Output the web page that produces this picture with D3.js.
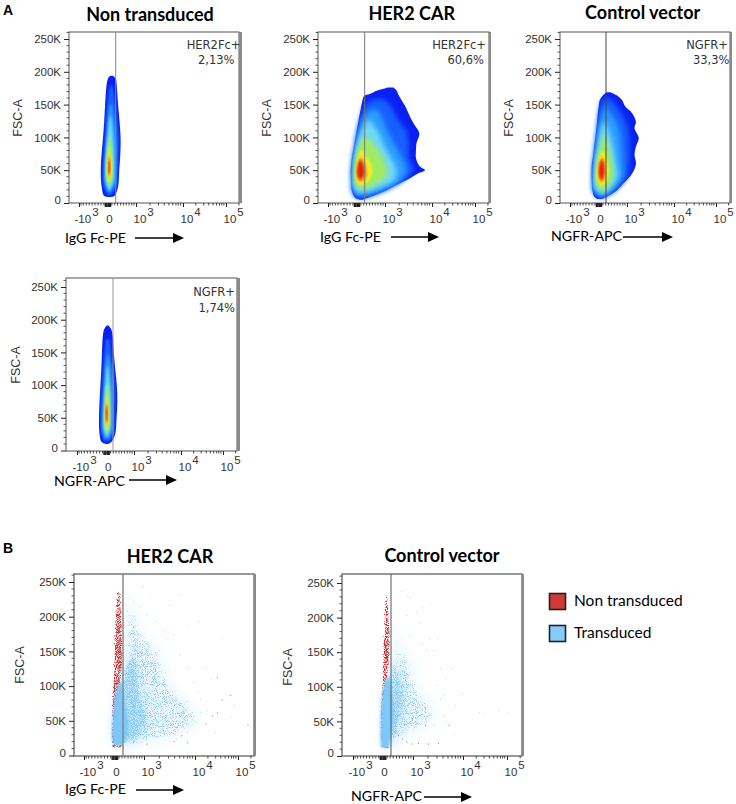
<!DOCTYPE html>
<html>
<head>
<meta charset="utf-8">
<script src="https://cdn.jsdelivr.net/npm/d3@7"></script>
<style>
	html, body { margin: 0; background: #fff; }
	svg { display: block; }
	text { font-family: "Liberation Sans", sans-serif; fill: #333; }
	.title, .xtitle, .legend, .letter { fill: #000; }
	.title, .xtitle, .legend { font-family: Lato, sans-serif; }
</style>
</head>
<body>
<svg id="chart" width="736" height="804"></svg>
<script>
// x values are in axis decades: -1 = -10^3, 0 = 0, 1 = 10^3, 2 = 10^4, 3 = 10^5. fsc in K
const xTickValues = [-1, 0, 1, 2, 3];
const xTickPowers = ['3', '', '3', '4', '5'];
const xMinorValues = [-.93, -.85, -.75, -.65, -.55, -.45, -.34, -.24, -.14, -.09, -.06, -.03, .03, .06, .09, .14, .24, .34, .45, .55, .65, .75, .85, .93,
	1.3, 1.48, 1.6, 1.7, 1.78, 1.85, 1.9, 1.95, 2.3, 2.48, 2.6, 2.7, 2.78, 2.85, 2.9, 2.95, 3.3];
const fscTicks = [0, 50, 100, 150, 200, 250];
const fscMinor = [10, 20, 30, 40, 60, 70, 80, 90, 110, 120, 130, 140, 160, 170, 180, 190, 210, 220, 230, 240, 260];

const densityColors = ['#0a20f2', '#1560ff', '#2c9cff', '#70d8f5', '#a0ec60', '#f0ee28', '#ff9a10', '#e02010'];

// contour outlines of the density plots: [fsc, left x, right x]
const nonTransducedPe = [
	[[9,0,.1],[11,-.14,.24],[25,-.22,.36],[50,-.25,.4],[75,-.22,.44],[100,-.17,.45],[125,-.13,.41],[150,-.1,.36],[175,-.06,.32],[187,-.02,.29],[192,.03,.23],[194,.09,.17]],
	[[12,0,.1],[25,-.15,.3],[50,-.18,.35],[100,-.1,.38],[140,-.05,.29],[170,.03,.2],[180,.09,.15]],
	[[16,.01,.08],[30,-.11,.25],[50,-.13,.29],[90,-.07,.29],[125,-.01,.22],[150,.06,.14]],
	[[20,.02,.07],[35,-.08,.2],[55,-.09,.22],[85,-.05,.2],[110,0,.16],[132,.06,.11]],
	[[26,.03,.06],[40,-.06,.16],[60,-.06,.17],[80,-.03,.14],[102,.05,.08]],
	[[32,.03,.05],[45,-.03,.12],[60,-.03,.12],[72,0,.09],[86,.04,.06]],
	[[38,.03,.05],[50,-.01,.09],[60,-.01,.09],[74,.03,.05]],
	[[43,.03,.04],[50,.01,.07],[58,.01,.07],[66,.03,.05]]
];
const her2CarPe = [
	[[5,.1,.2],[8,-.07,.4],[17,-.17,.94],[26,-.2,1.2],[35,-.21,1.46],[45,-.22,1.7],[50,-.22,1.85],[56,-.21,1.74],[68,-.18,1.66],[81,-.13,1.66],[91,-.09,1.67],[106,-.03,1.73],[120,.03,1.62],[132,.08,1.53],[145,.14,1.45],[157,.2,1.35],[163,.25,1.3],[166,.46,1.28],[171,.7,1.25],[176,1.07,1.18]],
	[[8,-.03,.3],[17,-.16,.9],[35,-.19,1.4],[50,-.19,1.6],[70,-.15,1.5],[90,-.07,1.5],[110,0,1.45],[130,.13,1.25],[150,.3,1.1],[158,.6,.95]],
	[[11,0,.3],[20,-.14,.95],[35,-.16,1.35],[50,-.16,1.45],[70,-.11,1.35],[90,-.03,1.2],[110,.06,1.05],[130,.2,.9],[142,.5,.75]],
	[[16,.02,.3],[24,-.11,.85],[35,-.13,1.2],[50,-.13,1.25],[70,-.08,1.12],[90,0,.95],[105,.1,.8],[118,.25,.6],[126,.4,.5]],
	[[22,.05,.3],[30,-.08,.75],[45,-.1,1.05],[60,-.08,1],[78,-.02,.8],[92,.1,.55],[100,.25,.4]],
	[[28,.05,.2],[36,-.03,.45],[46,-.05,.55],[60,-.02,.5],[72,.05,.3],[80,.13,.2]],
	[[32,.1,.16],[38,0,.33],[50,-.02,.36],[60,.02,.3],[70,.11,.17]],
	[[36,.1,.13],[42,.02,.24],[50,.01,.26],[58,.04,.22],[65,.1,.14]]
];
const controlVectorApc = [
	[[6,-.05,.1],[10,-.17,.3],[17,-.22,.58],[30,-.25,.88],[45,-.26,1.11],[60,-.25,1.19],[73,-.2,1.16],[86,-.17,1.19],[99,-.13,1.25],[114,-.09,1.16],[124,-.07,1.19],[137,-.04,1.11],[147,-.01,.94],[157,.03,.82],[165,.16,.6],[169,.27,.4]],
	[[8,0,.15],[18,-.2,.55],[40,-.23,1],[60,-.21,1.05],[90,-.13,1.05],[120,-.05,1],[140,0,.75],[155,.1,.5],[160,.22,.35]],
	[[11,.02,.2],[20,-.18,.5],[40,-.2,.85],[60,-.18,.85],[90,-.09,.8],[115,-.02,.7],[135,.08,.45],[145,.2,.3]],
	[[14,.03,.2],[24,-.16,.45],[40,-.17,.68],[60,-.14,.62],[85,-.05,.52],[105,.02,.4],[122,.13,.25]],
	[[20,.03,.2],[30,-.12,.42],[48,-.13,.5],[70,-.06,.42],[90,.05,.3],[102,.13,.2]],
	[[26,.05,.13],[36,-.07,.3],[50,-.07,.34],[65,-.02,.28],[78,.08,.2]],
	[[31,.07,.12],[40,-.03,.22],[52,-.03,.24],[62,.01,.2],[71,.1,.14]],
	[[35,.08,.11],[42,.01,.17],[50,0,.19],[58,.02,.18],[66,.09,.12]]
];
const nonTransducedApc = [
	[[10,-.02,.04],[13,-.17,.17],[25,-.24,.31],[50,-.26,.36],[75,-.24,.39],[100,-.21,.37],[125,-.18,.31],[150,-.16,.26],[175,-.13,.22],[185,-.09,.17],[189,-.04,.11],[191,0,.06]],
	[[14,-.08,.08],[25,-.18,.25],[50,-.2,.29],[100,-.15,.3],[140,-.09,.18],[170,-.02,.1]],
	[[18,-.05,.06],[30,-.14,.2],[50,-.16,.22],[90,-.1,.22],[125,-.05,.15],[146,.01,.07]],
	[[22,-.03,.04],[35,-.1,.14],[55,-.1,.15],[85,-.07,.14],[110,-.03,.09],[128,0,.05]],
	[[27,-.02,.03],[40,-.08,.1],[60,-.08,.1],[80,-.05,.09],[100,-.02,.05]],
	[[32,-.02,.02],[45,-.05,.07],[60,-.05,.07],[72,-.03,.05],[84,-.01,.02]],
	[[38,-.01,.02],[50,-.04,.05],[60,-.04,.05],[74,-.01,.01]],
	[[44,-.01,.01],[52,-.03,.03],[60,-.03,.03],[70,-.01,.01]]
];

// overlay plots: outlines of the dot clouds, then single dots away from the cloud
const carBlueSolid = [[14,-.02,.2],[20,-.08,.35],[40,-.09,.45],[60,-.06,.42],[80,-.02,.33],[95,.05,.28],[105,.15,.25]];
const carBlueDense = [[15,0,.5],[25,-.08,.9],[50,-.08,1.1],[70,-.05,1.05],[100,.05,.9],[125,.25,.85],[140,.4,.75],[150,.6,.7]];
const carBlueSparse = [[10,.1,.5],[20,-.05,1.5],[50,-.05,2.15],[75,.05,1.95],[100,.15,1.6],[130,.25,1.45],[160,.25,1.25],[180,.25,1],[215,.3,.8]];
const carRed = [[10,-.12,.35],[40,-.13,.1],[70,-.11,.1],[100,-.09,.2],[130,-.06,.27],[170,-.03,.27],[205,0,.25],[237,.05,.22]];
const carBlueDots = [[.97,244],[1.71,232],[2.08,194],[2.6,170],[2.22,126],[2.37,111],[2.89,73],[2.45,34],[2.82,56],[2.28,65],[2.12,82],[1.87,188],[1.5,217],[1.43,169],[1.57,174],[1.3,152],[1.7,145],[1.84,126],[1.97,106],[2.05,92],[1.84,78],[1.77,63],[2.12,63],[2,49],[1.84,34],[1.64,25],[1.11,232],[.62,222],[.5,227],[.85,215],[.4,208],[1.05,203],[1.23,193],[.68,188],[1.37,179]];
const carRedDots = [[2.51,113],[2.82,87],[2.62,81],[2.51,62],[2.4,58],[3.22,45],[1.58,21],[1.84,19],[1.05,17],[.62,20],[.85,58],[1.64,41],[1.73,29],[2.24,46]];

const ctrlBlueSolid = [[12,-.07,.2],[25,-.08,.25],[50,-.08,.35],[70,-.06,.35],[90,-.02,.3],[105,.05,.25],[115,.15,.22]];
const ctrlBlueDense = [[14,-.03,.3],[30,-.07,.5],[60,-.05,.7],[80,-.02,.8],[100,.1,.75],[120,.22,.6],[140,.25,.4]];
const ctrlBlueSparse = [[14,.1,.3],[30,.1,1],[55,.1,1.5],[80,.1,1.35],[100,.2,1.15],[130,.25,1.05],[155,.25,.8],[180,.25,.45],[210,.25,.35]];
const ctrlRed = [[10,-.08,.25],[40,-.1,.05],[70,-.09,.05],[100,-.05,.1],[130,-.03,.22],[170,0,.25],[205,.03,.22],[237,.07,.15]];
const ctrlBlueDots = [[.59,238],[.78,232],[.89,230],[1.17,215],[1.34,222],[1.32,170],[1.49,170],[1.78,127],[1.98,91],[1.62,88],[1.83,74],[1.61,59],[1.81,33],[2.36,63],[2.45,62],[2.81,66],[3,63],[1.07,208],[.78,204],[1.13,192],[1.17,163],[1.41,153],[1.55,127],[1.65,112],[1.47,103],[1.54,83],[1.41,45],[1.65,50],[1.27,153],[.89,175]];
const ctrlRedDots = [[1.71,45],[1.5,19],[1.3,18],[1.1,19],[.94,18],[.78,21],[.5,30],[1.07,47],[1.24,45],[.39,35],[.64,25]];

const legendLabels = ['Non transduced', 'Transduced'];
const legendColors = ['#d03a35', '#85ccfb'];

// where each plot sits on the page
const panels = [
	{ title: 'Non transduced', titleX: 150, titleY: 21, xTitle: 'IgG Fc-PE', xTitleX: 65, xTitleY: 243, arrow: [135, 184, 238], yTitleX: 18,
		frame: [69, 239, 32, 203], bar: 3, xPx: [79, 108, 136, 183, 226], yPx: [203, 39], gate: 115.7, gateColor: '#888', blur: 'soft',
		note: ['HER2Fc+', '2,13%'], noteX: [240.5, 234.5], noteY: [49, 64], levels: nonTransducedPe },
	{ title: 'HER2 CAR', titleX: 411.7, titleY: 20, xTitle: 'IgG Fc-PE', xTitleX: 320, xTitleY: 242, arrow: [391, 439, 237], yTitleX: 267,
		frame: [318, 489, 32, 203], bar: 2, xPx: [328, 357, 385, 432, 475], yPx: [203, 39], gate: 364.7, gateColor: '#777', blur: 'softWide',
		note: ['HER2Fc+', '60,6%'], noteX: [486, 484], noteY: [49, 64], levels: her2CarPe },
	{ title: 'Control vector', titleX: 642.7, titleY: 19, xTitle: 'NGFR-APC', xTitleX: 551, xTitleY: 241, arrow: [623, 673, 237], yTitleX: 509,
		frame: [560, 730, 32, 203], bar: 2, xPx: [570, 599, 627, 674, 716], yPx: [203, 39], gate: 606, gateColor: '#444', blur: 'softWide',
		note: ['NGFR+', '33,3%'], noteX: [728, 729.5], noteY: [49, 64], levels: controlVectorApc },
	{ xTitle: 'NGFR-APC', xTitleX: 54, xTitleY: 485.6, arrow: [129, 177, 480], yTitle: 365, yTitleX: 16,
		frame: [66, 237, 278, 451], bar: 3, xPx: [77, 106.7, 134, 181, 223], yPx: [450.5, 287], gate: 113, gateColor: '#999', blur: 'soft',
		note: ['NGFR+', '1,74%'], noteX: [235, 235], noteY: [296, 312], levels: nonTransducedApc },
	{ title: 'HER2 CAR', titleX: 170, titleY: 563, xTitle: 'IgG Fc-PE', xTitleX: 65, xTitleY: 794, arrow: [136, 184, 790], yTitle: 665, yTitleX: 20,
		frame: [74, 254, 574, 756], bar: 2, xPx: [84, 115, 144, 195, 238], yPx: [755.5, 582], gate: 123, gateColor: '#888', gateWidth: 1.5,
		solid: carBlueSolid, dense: carBlueDense, sparse: carBlueSparse, red: carRed, blueDots: carBlueDots, redDots: carRedDots },
	{ title: 'Control vector', titleX: 442, titleY: 562, xTitle: 'NGFR-APC', xTitleX: 351, xTitleY: 801, arrow: [424, 472, 797], yTitle: 667, yTitleX: 288,
		frame: [342, 522, 574, 756], bar: 2, xPx: [353, 383, 413, 463, 507], yPx: [756, 583], gate: 391, gateColor: '#555',
		solid: ctrlBlueSolid, dense: ctrlBlueDense, sparse: ctrlBlueSparse, red: ctrlRed, blueDots: ctrlBlueDots, redDots: ctrlRedDots }
];

const svg = d3.select('#chart');
const defs = svg.append('defs');

defs.append('filter').attr('id', 'soft')
	.append('feGaussianBlur').attr('stdDeviation', 1.1);
defs.append('filter').attr('id', 'softWide')
	.append('feGaussianBlur').attr('stdDeviation', 2.4);
defs.append('filter').attr('id', 'wash').attr('x', '-20%').attr('y', '-20%').attr('width', '140%').attr('height', '140%')
	.append('feGaussianBlur').attr('stdDeviation', 5);

// dot texture for the clouds: threshold sets the coverage, fade how far the edge thins out
function addStipple(id, threshold, fade, seed) {
	const f = defs.append('filter').attr('id', id)
		.attr('x', '-15%').attr('y', '-15%').attr('width', '130%').attr('height', '130%')
		.attr('color-interpolation-filters', 'sRGB');
	f.append('feTurbulence').attr('type', 'fractalNoise').attr('baseFrequency', 1.1)
		.attr('numOctaves', 1).attr('seed', seed).attr('result', 'noise');
	f.append('feColorMatrix').attr('in', 'noise').attr('type', 'matrix')
		.attr('values', '0 0 0 0 0  0 0 0 0 0  0 0 0 0 0  1 0 0 0 0').attr('result', 'mask');
	f.append('feGaussianBlur').attr('in', 'SourceGraphic').attr('stdDeviation', fade).attr('result', 'edge');
	f.append('feComposite').attr('in', 'edge').attr('in2', 'mask').attr('operator', 'in').attr('result', 'mixed');
	f.append('feColorMatrix').attr('in', 'mixed').attr('type', 'matrix')
		.attr('values', `1 0 0 0 0  0 1 0 0 0  0 0 1 0 0  0 0 0 6 ${-6 * threshold}`).attr('result', 'dots');
	f.append('feGaussianBlur').attr('in', 'dots').attr('stdDeviation', 0.35);
}
addStipple('stippleRed', 0.4, 1.2, 3);
addStipple('stippleMid', 0.42, 3, 7);
addStipple('stippleSparse', 0.5, 6, 11);

function drawXAxis(g, panel, x) {
	const axis = d3.axisBottom(x).tickValues(xTickValues).tickSize(4).tickFormat(d => d === 0 ? '0' : d === -1 ? '-10' : '10');
	const a = g.append('g').attr('transform', `translate(0,${panel.frame[3]})`).call(axis);
	a.select('.domain').remove();
	a.selectAll('line').attr('stroke', '#222');
	a.selectAll('.tick text').each(function(d, i) {
		const t = d3.select(this);
		t.attr('y', 20).attr('dy', 0).style('font-size', '11.5px').attr('fill', '#333');
		if (d !== 0) {
			t.attr('text-anchor', 'start').attr('x', d === -1 ? -5 : -3);
			t.append('tspan').attr('dy', -7).attr('dx', 1).text(xTickPowers[i]);
		} else {
			t.attr('x', 1);
		}
	});
	const minor = g.append('g').attr('transform', `translate(0,${panel.frame[3]})`);
	minor.selectAll('line').data(xMinorValues).enter().append('line')
		.attr('x1', d => x(d)).attr('x2', d => x(d))
		.attr('y1', 0).attr('y2', d => Math.abs(d) < .1 ? 4 : 2.5)
		.attr('stroke', '#222').attr('stroke-width', d => Math.abs(d) < .1 ? 1.4 : .8);
}

function drawYAxis(g, panel, y) {
	const axis = d3.axisLeft(y).tickValues(fscTicks).tickSize(5).tickFormat(d => d === 0 ? '0' : d + 'K');
	const a = g.append('g').attr('transform', `translate(${panel.frame[0]},0)`).call(axis);
	a.select('.domain').remove();
	a.selectAll('line').attr('stroke', '#222');
	a.selectAll('.tick text').style('font-size', '11.5px').attr('fill', '#333').attr('x', -8).attr('dy', d => d === 0 ? '0.05em' : '0.32em');
	a.append('g').selectAll('line').data(fscMinor).enter().append('line')
		.attr('x2', -2.5).attr('y1', d => y(d)).attr('y2', d => y(d))
		.attr('stroke', '#333').attr('stroke-width', .8);
}

function drawPanel(panel, index) {
	const [left, right, top, bottom] = panel.frame;
	const x = d3.scaleLinear().domain(xTickValues).range(panel.xPx);
	const y = d3.scaleLinear().domain([0, 250]).range(panel.yPx);
	const g = svg.append('g');

	const clipId = 'clip' + index;
	defs.append('clipPath').attr('id', clipId).append('rect')
		.attr('x', left).attr('y', top).attr('width', right - left).attr('height', bottom - top);

	const contour = d3.area()
		.y(d => y(d[0])).x0(d => x(d[1])).x1(d => x(d[2]))
		.curve(d3.curveCatmullRom);

	const plot = g.append('g').attr('clip-path', `url(#${clipId})`);

	if (panel.levels) {
		panel.levels.forEach((rows, i) => {
			plot.append('path').datum(rows).attr('d', contour)
				.attr('fill', densityColors[i])
				.attr('filter', i > 0 ? `url(#${i > 4 ? 'soft' : panel.blur})` : null);
		});
	} else {
		// pale wash under the dot texture, the source picture is soft at this size
		plot.append('path').datum(panel.sparse).attr('d', contour).attr('fill', legendColors[1]).attr('opacity', .1).attr('filter', 'url(#wash)');
		plot.append('path').datum(panel.dense).attr('d', contour).attr('fill', legendColors[1]).attr('opacity', .3).attr('filter', 'url(#wash)');
		plot.append('path').datum(panel.red).attr('d', contour).attr('fill', '#d8282c').attr('filter', 'url(#stippleRed)');
		plot.append('path').datum(panel.sparse).attr('d', contour).attr('fill', legendColors[1]).attr('filter', 'url(#stippleSparse)');
		plot.append('path').datum(panel.dense).attr('d', contour).attr('fill', legendColors[1]).attr('filter', 'url(#stippleMid)');
		plot.append('path').datum(panel.solid).attr('d', contour).attr('fill', '#7cc8fa').attr('filter', 'url(#soft)');
		plot.append('g').selectAll('rect').data(panel.blueDots).enter().append('rect')
			.attr('x', d => x(d[0])).attr('y', d => y(d[1])).attr('width', 1).attr('height', 1)
			.attr('fill', legendColors[1]).attr('opacity', .75);
		plot.append('g').selectAll('rect').data(panel.redDots).enter().append('rect')
			.attr('x', d => x(d[0])).attr('y', d => y(d[1])).attr('width', 1).attr('height', 1)
			.attr('fill', legendColors[0]).attr('opacity', .8);
	}

	// frame, right hand bar and gate
	const frameColor = panel.levels ? '#555' : '#777';
	g.append('rect').attr('x', left).attr('y', top).attr('width', right - left).attr('height', bottom - top)
		.attr('fill', 'none').attr('stroke', frameColor).attr('stroke-width', panel.levels ? 1 : 1.5);
	g.append('rect').attr('x', right).attr('y', top).attr('width', panel.bar).attr('height', bottom - top)
		.attr('fill', '#8a8a8a');
	g.append('line').attr('x1', panel.gate).attr('x2', panel.gate).attr('y1', top).attr('y2', bottom)
		.attr('stroke', panel.gateColor).attr('stroke-width', panel.gateWidth || 1);

	drawXAxis(g, panel, x);
	drawYAxis(g, panel, y);

	if (panel.title) {
		g.append('text').attr('class', 'title').attr('x', panel.titleX).attr('y', panel.titleY)
			.attr('text-anchor', 'middle').style('font-size', '18px').style('font-weight', 700).text(panel.title);
	}
	g.append('text').attr('class', 'xtitle').attr('x', panel.xTitleX).attr('y', panel.xTitleY)
		.style('font-size', '14.2px').text(panel.xTitle);

	const [a0, a1, ay] = panel.arrow;
	g.append('line').attr('x1', a0).attr('x2', a1 - 8).attr('y1', ay).attr('y2', ay).attr('stroke', '#000').attr('stroke-width', 1.6);
	g.append('path').attr('d', `M${a1 - 11},${ay - 5}L${a1},${ay}L${a1 - 11},${ay + 5}Z`).attr('fill', '#000');

	g.append('text').attr('transform', `translate(${panel.yTitleX},${panel.yTitle || 118}) rotate(-90)`)
		.attr('text-anchor', 'middle').attr('dy', '0.35em').style('font-size', '12.5px').attr('fill', '#222').text('FSC-A');

	if (panel.note) {
		panel.note.forEach((s, i) => {
			g.append('text').attr('x', panel.noteX[i]).attr('y', panel.noteY[i]).attr('text-anchor', 'end')
				.style('font-family', '"DejaVu Sans", sans-serif').style('font-size', '11.5px').attr('fill', '#222').text(s);
		});
	}
}

panels.forEach(drawPanel);

svg.append('text').attr('class', 'letter').attr('x', 3).attr('y', 15).style('font-size', '14px').style('font-weight', 700).text('A');
svg.append('text').attr('class', 'letter').attr('x', 3).attr('y', 553).style('font-size', '14px').style('font-weight', 700).text('B');

// legend
const legendY = d3.scalePoint().domain(legendLabels).range([602, 634]);
const legend = svg.append('g').selectAll('g').data(legendLabels).enter().append('g')
	.attr('transform', d => `translate(549,${legendY(d)})`);
legend.append('rect').attr('x', 0.5).attr('y', -8.5).attr('width', 16).attr('height', 16)
	.attr('fill', (d, i) => legendColors[i]).attr('stroke', '#222').attr('stroke-width', 1.6);
legend.append('text').attr('class', 'legend').attr('x', 25).attr('y', 4)
	.style('font-size', '15.5px').text(d => d);
</script>
</body>
</html>
